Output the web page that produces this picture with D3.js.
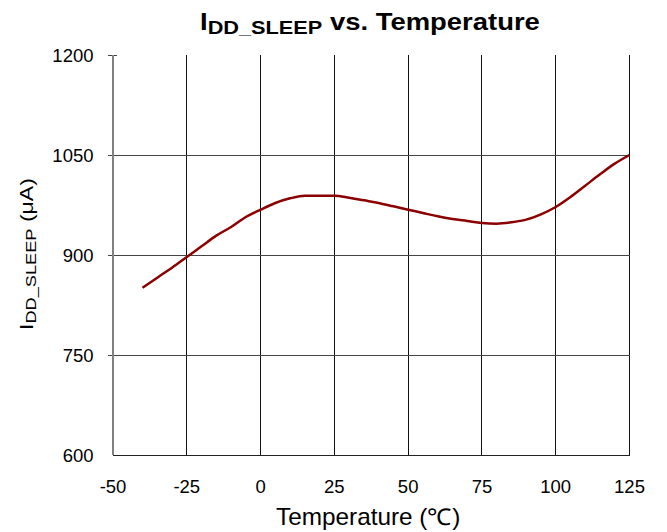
<!DOCTYPE html>
<html><head><meta charset="utf-8">
<script src="https://cdn.jsdelivr.net/npm/d3@7"></script>
<style>body{margin:0;background:#fff}svg{display:block;font-family:"Liberation Sans",Arial,sans-serif}</style>
</head><body>
<svg id="c" width="667" height="532"></svg>
<script>
const temps = [-40,-35,-30,-25,-20,-15,-10,-5,0,5,10,15,20,25,30,35,40,45,50,55,60,65,70,75,80,85,90,95,100,105,110,115,120,125];
const idd   = [851,866,881,897,913,929,942,957,968,978,985,989,989,989,986,982,978,973,968,963,958,954,951,948,947,949,953,961,972,987,1004,1021,1037,1050];
const xTicks = [-50,-25,0,25,50,75,100,125];
const yTicks = [600,750,900,1050,1200];

const svg = d3.select("#c");
const L=113, R=629.5, T=55, B=455;
const x = d3.scaleLinear().domain([-50,125]).range([L,R]);
const y = d3.scaleLinear().domain([600,1200]).range([B,T]);

// grid
svg.append("g").selectAll("line").data(xTicks.slice(1)).join("line")
  .attr("x1",d=>x(d)).attr("x2",d=>x(d)).attr("y1",T).attr("y2",B)
  .attr("stroke","#111").attr("stroke-width",1).attr("shape-rendering","crispEdges");
svg.append("g").selectAll("line").data(yTicks.slice(1)).join("line")
  .attr("x1",L-5).attr("x2",d=>d===1200?L+4:R).attr("y1",d=>y(d)).attr("y2",d=>y(d))
  .attr("stroke","#444").attr("stroke-width",1).attr("shape-rendering","crispEdges");
// axes
svg.append("line").attr("x1",L).attr("x2",L).attr("y1",T).attr("y2",B).attr("stroke","#808080").attr("stroke-width",2);
svg.append("line").attr("x1",L).attr("x2",R).attr("y1",B).attr("y2",B).attr("stroke","#222").attr("stroke-width",1).attr("shape-rendering","crispEdges");

// tick labels
svg.append("g").selectAll("text").data(xTicks).join("text")
  .attr("x",d=>x(d)).attr("y",493).attr("text-anchor","middle")
  .attr("font-size",18.5).text(d=>d);
svg.append("g").selectAll("text").data(yTicks).join("text")
  .attr("x",93.5).attr("y",d=>y(d)+6.7).attr("text-anchor","end")
  .attr("font-size",18.5).text(d=>d);

// line
svg.append("path").datum(temps.map((t,i)=>[t,idd[i]]))
  .attr("d",d3.line().x(d=>x(d[0])).y(d=>y(d[1])).curve(d3.curveMonotoneX))
  .attr("fill","none").attr("stroke","#8B0000").attr("stroke-width",2.5);

// helper: stretch text along its own direction to span target width
function fit(g, node, target){
  const w = node.getBBox().width;
  return target / w;
}

// title
const tg = svg.append("g");
const t = tg.append("text").attr("x",0).attr("y",0)
  .attr("font-size",24).attr("font-weight","bold");
t.append("tspan").text("I");
t.append("tspan").attr("font-size",19).attr("dy",4.3).text("DD_SLEEP");
t.append("tspan").attr("dy",-4.3).text(" vs. Temperature");
{ const bb=t.node().getBBox(); const s=340/bb.width;
  tg.attr("transform",`translate(${200 - bb.x*s},30) scale(${s},1)`); }

// x label
const xg = svg.append("g");
const xl = xg.append("text").attr("x",0).attr("y",0).attr("font-size",23).text("Temperature (\u2103)");
{ const bb=xl.node().getBBox(); const s=184/bb.width;
  xg.attr("transform",`translate(${276 - bb.x*s},525) scale(${s},1)`); }

// y label
const yg = svg.append("g");
const yl = yg.append("text").attr("x",0).attr("y",0).attr("font-size",19);
yl.append("tspan").text("I");
yl.append("tspan").attr("font-size",15).attr("dy",3).text("DD_SLEEP");
yl.append("tspan").attr("dy",-3).text(" (\u03bcA)");
{ const bb=yl.node().getBBox(); const s=152/bb.width;
  yg.attr("transform",`translate(33,${330 + bb.x*s}) rotate(-90) scale(${s},1)`); }
</script>
</body></html>
